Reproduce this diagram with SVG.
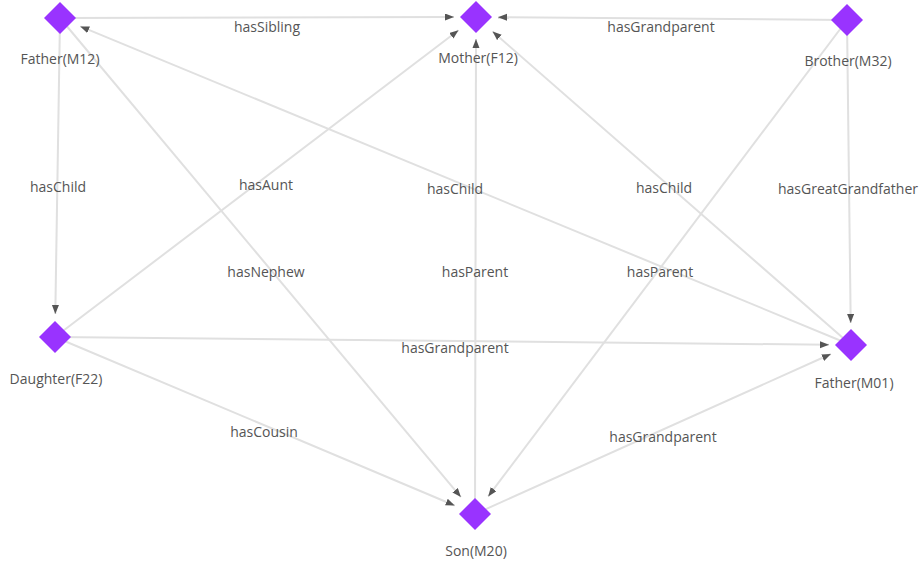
<svg xmlns="http://www.w3.org/2000/svg" width="924" height="562" viewBox="0 0 924 562">
<style>
.e{stroke:#e0e0e0;stroke-width:2;fill:none;marker-end:url(#ar)}
.n{fill:#9933ff}
text{font-family:"Open Sans","Liberation Sans",sans-serif;font-size:14px;fill:#555;text-anchor:middle;dominant-baseline:central}
</style>
<defs>
<marker id="ar" markerUnits="userSpaceOnUse" markerWidth="10" markerHeight="8" refX="9" refY="3.5" orient="auto">
<path d="M0,0 L9,3.5 L0,7 z" fill="#555"/>
</marker>
</defs>
<rect width="924" height="562" fill="#fff"/>
<g id="edges">
<line class="e" x1="60" y1="18" x2="454" y2="17"/>
<line class="e" x1="847" y1="20" x2="498" y2="17.2"/>
<line class="e" x1="60" y1="18" x2="55.3" y2="314"/>
<line class="e" x1="55" y1="337" x2="458.5" y2="30.3"/>
<line class="e" x1="851" y1="345" x2="80.3" y2="26.4"/>
<line class="e" x1="60" y1="18" x2="460.9" y2="497.1"/>
<line class="e" x1="475" y1="514" x2="476" y2="39"/>
<line class="e" x1="851" y1="345" x2="492.6" y2="31.5"/>
<line class="e" x1="847" y1="20" x2="488.2" y2="496.4"/>
<line class="e" x1="847" y1="20" x2="850.7" y2="323"/>
<line class="e" x1="55" y1="337" x2="829" y2="344.8"/>
<line class="e" x1="55" y1="337" x2="454.7" y2="505.5"/>
<line class="e" x1="475" y1="514" x2="830.9" y2="354"/>
<text x="267" y="26">hasSibling</text>
<text x="661" y="26">hasGrandparent</text>
<text x="58" y="186">hasChild</text>
<text x="266" y="184">hasAunt</text>
<text x="455" y="188">hasChild</text>
<text x="266" y="271">hasNephew</text>
<text x="475" y="271">hasParent</text>
<text x="664" y="187">hasChild</text>
<text x="660" y="271">hasParent</text>
<text x="848" y="188">hasGreatGrandfather</text>
<text x="455" y="347">hasGrandparent</text>
<text x="264" y="431">hasCousin</text>
<text x="663" y="436">hasGrandparent</text>
</g>
<g id="n-m12"><polygon class="n" points="60,2 76,18 60,34 44,18"/><text x="60" y="58">Father(M12)</text></g>
<g id="n-f12"><polygon class="n" points="476,1 492,17 476,33 460,17"/><text x="478" y="57">Mother(F12)</text></g>
<g id="n-m32"><polygon class="n" points="847,4 863,20 847,36 831,20"/><text x="848" y="60">Brother(M32)</text></g>
<g id="n-f22"><polygon class="n" points="55,321 71,337 55,353 39,337"/><text x="56" y="378">Daughter(F22)</text></g>
<g id="n-m01"><polygon class="n" points="851,329 867,345 851,361 835,345"/><text x="854" y="382">Father(M01)</text></g>
<g id="n-m20"><polygon class="n" points="475,498 491,514 475,530 459,514"/><text x="476" y="550">Son(M20)</text></g>
</svg>
